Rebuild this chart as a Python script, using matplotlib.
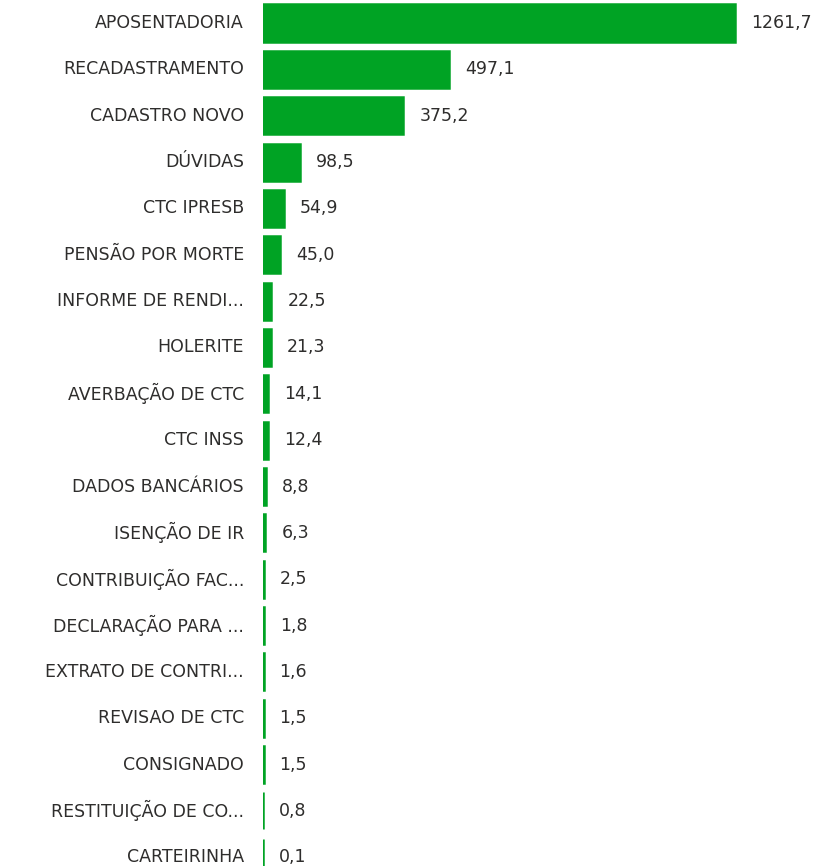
import matplotlib
matplotlib.use("Agg")
import matplotlib.pyplot as plt
from matplotlib.transforms import offset_copy

categories = ["APOSENTADORIA", "RECADASTRAMENTO", "CADASTRO NOVO", "DÚVIDAS", "CTC IPRESB",
              "PENSÃO POR MORTE", "INFORME DE RENDI...", "HOLERITE", "AVERBAÇÃO DE CTC",
              "CTC INSS", "DADOS BANCÁRIOS", "ISENÇÃO DE IR", "CONTRIBUIÇÃO FAC...",
              "DECLARAÇÃO PARA ...", "EXTRATO DE CONTRI...", "REVISAO DE CTC", "CONSIGNADO",
              "RESTITUIÇÃO DE CO...", "CARTEIRINHA"]
values = [1261.7, 497.1, 375.2, 98.5, 54.9, 45.0, 22.5, 21.3, 14.1, 12.4, 8.8, 6.3,
          2.5, 1.8, 1.6, 1.5, 1.5, 0.8, 0.1]

GREEN = "#00A324"
TEXT = "#2e2d2c"
FONT = ["DejaVu Sans"]

W, H = 819, 866
fig = plt.figure(figsize=(W / 100, H / 100), dpi=100)
left = 263 / W
ax = fig.add_axes([left, 0, 1 - left, 1])

pos = list(range(len(values)))
ax.barh(pos, values, height=0.8, color=GREEN, edgecolor=GREEN, linewidth=1.8)
ax.set_xlim(0, max(values) * (W - 263) / (735 - 263))
row = 46.35
ax.set_ylim((H - 23) / row, -23 / row)
ax.axis("off")

label_tr = offset_copy(ax.get_yaxis_transform(), fig=fig, x=-19, y=0, units="dots")
val_tr = offset_copy(ax.transData, fig=fig, x=16, y=0, units="dots")
for i, (c, v) in enumerate(zip(categories, values)):
    ax.text(0, i, c, transform=label_tr, ha="right", va="center", fontsize=12.5,
            color=TEXT, family=FONT, clip_on=False)
    ax.text(v, i, f"{v:.1f}".replace(".", ","), transform=val_tr, ha="left", va="center",
            fontsize=12.5, color=TEXT, family=FONT, clip_on=False)

fig.savefig("out.png", dpi=100)
